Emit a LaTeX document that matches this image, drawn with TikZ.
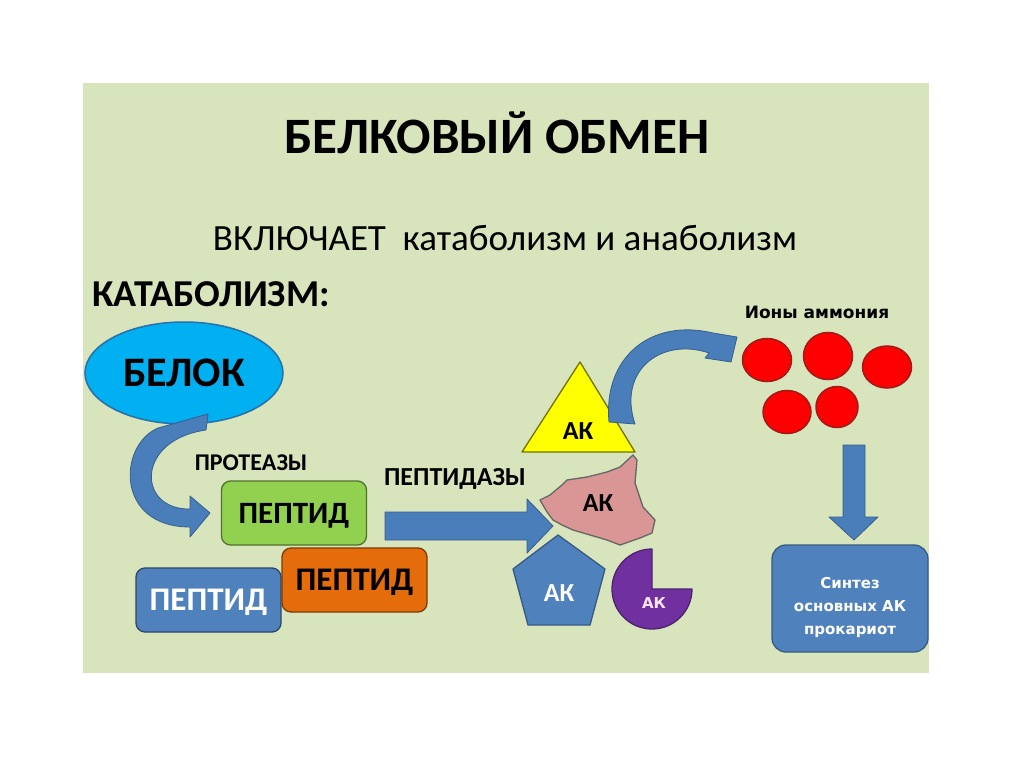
\documentclass[tikz,border=0pt]{standalone}
\usepackage{fontspec}
\setmainfont{Carlito}
\newfontfamily\ionfont{DejaVu Sans}
\usepackage{xcolor}
\usepackage{tikz}
\usetikzlibrary{shapes.geometric}

\definecolor{slidebg}{HTML}{D7E4BC}
\definecolor{belokblue}{HTML}{00B0F0}
\definecolor{belokline}{HTML}{2A6FA8}
\definecolor{arrowblue}{HTML}{4A7EBB}
\definecolor{pepblue}{HTML}{4F81BD}
\definecolor{pepgreen}{HTML}{92D050}
\definecolor{peporange}{HTML}{E46C0A}
\definecolor{akyellow}{HTML}{FFFF00}
\definecolor{akpink}{HTML}{D99694}
\definecolor{akpurple}{HTML}{7030A0}
\definecolor{ionred}{HTML}{FF0000}
\definecolor{ionline}{HTML}{9E1B1B}

\begin{document}
\begin{tikzpicture}[x=1pt,y=-1pt,
  txt/.style={font=\bfseries\fontsize{#1}{#1}\selectfont, inner sep=0pt, anchor=base},
  pepbox/.style={draw=#1!55!black, fill=#1, line width=1.3pt, rounded corners=9pt,
    minimum width=145pt, minimum height=64pt, inner sep=0pt, text depth=0pt,
    font=\bfseries\fontsize{33}{33}\selectfont},
  aklabel/.style={inner sep=0pt, text depth=0pt, font=\bfseries\fontsize{26}{26}\selectfont},
  blockarrow/.style={fill=arrowblue, draw=arrowblue!75!black, line width=0.8pt, line join=round},
  ion/.style={ellipse, draw=ionline, fill=ionred, line width=1.5pt, inner sep=0pt}]

  % Page and light green slide
  \useasboundingbox (0,0) rectangle (1024,767);
  \fill[white] (0,0) rectangle (1024,767);
  \fill[slidebg] (83,83) rectangle (929,673);

  % Headings
  \node[txt=51] (title) at (497,154) {БЕЛКОВЫЙ ОБМЕН};
  \node[txt=37, font=\mdseries\fontsize{37}{37}\selectfont] (incl) at (505,250) {ВКЛЮЧАЕТ\ \ катаболизм и анаболизм};
  \node[txt=38, anchor=base west] (catab) at (92,306) {КАТАБОЛИЗМ:};

  % Protein and proteases
  \node[ellipse, draw=belokline, fill=belokblue, line width=1.5pt, minimum width=198pt,
    minimum height=102pt, text depth=0pt, font=\bfseries\fontsize{42}{42}\selectfont] (belok) at (184,373) {БЕЛОК};
  \filldraw[blockarrow] (208,414) -- (158,428) .. controls (118,445) and (115,527) .. (190,527)
    -- (190,537) -- (210,513) -- (190,496) -- (190,509)
    .. controls (137,510) and (135,440) .. (206,430) -- cycle;
  \node[txt=24] (protease) at (251,470) {ПРОТЕАЗЫ};

  % Peptides
  \node[pepbox=pepblue, text=white] (pepBlue) at (208.5,600) {ПЕПТИД};
  \node[pepbox=pepgreen, font=\bfseries\fontsize{31}{31}\selectfont] (pepGreen) at (294,513) {ПЕПТИД};
  \node[pepbox=peporange] (pepOrange) at (354.5,580) {ПЕПТИД};

  % Peptidases arrow
  \node[txt=26] (peptidase) at (455,485) {ПЕПТИДАЗЫ};
  \filldraw[blockarrow] (385,512) -- (527,512) -- (527,499) -- (553,526) -- (527,553)
    -- (527,540) -- (385,540) -- cycle;

  % Amino acids
  \filldraw[fill=akyellow, draw=akyellow!45!black, line width=1.3pt, line join=round]
    (522,452) -- (580,362) -- (635,452) -- cycle;
  \node[aklabel] (akTri) at (578,431) {АК};
  \filldraw[blockarrow] (609,422) .. controls (603,358) and (650,318) .. (713,333)
    -- (737,337) -- (731,362) -- (705,358) -- (709,353)
    .. controls (662,337) and (617,370) .. (635,424) -- cycle;
  \filldraw[fill=akpink, draw=black!60, line width=1.3pt, line join=round]
    (540,500) -- (550,495) -- (562,485) -- (567,480) -- (587,477) -- (607,472)
    -- (620,467) -- (633,455) -- (637,460) -- (635,483) -- (643,507) -- (655,520)
    -- (652,533) -- (640,538) -- (620,545) -- (607,540) -- (590,535) -- (573,530)
    -- (562,525) -- (553,520) -- (547,512) -- cycle;
  \node[aklabel] (akPink) at (598,503) {АК};
  \filldraw[fill=pepblue, draw=pepblue!70!black, line width=1.3pt, line join=round]
    (558,535) -- (605,569) -- (590,625) -- (528,625) -- (513,569) -- cycle;
  \node[aklabel, text=white] (akPent) at (559,593) {АК};
  \filldraw[fill=akpurple, draw=akpurple!70!black, line width=1.3pt, line join=round]
    (652,589) -- (692,589) arc[start angle=0, end angle=270, radius=40] -- cycle;
  \node[inner sep=0pt, text depth=0pt, text=white!90!magenta, font=\ionfont\bfseries\fontsize{15}{15}\selectfont] (akPac) at (654,603) {АК};

  % Ammonium ions
  \node[font=\ionfont\bfseries\fontsize{17}{17}\selectfont, inner sep=0pt, anchor=base] (ionText) at (817,318) {Ионы аммония};
  \node[ion, minimum width=49pt, minimum height=43pt] (ion1) at (767,360) {};
  \node[ion, minimum width=49pt, minimum height=47pt] (ion2) at (828,356) {};
  \node[ion, minimum width=49pt, minimum height=42pt] (ion3) at (887,367) {};
  \node[ion, minimum width=48pt, minimum height=43pt] (ion4) at (787,412) {};
  \node[ion, minimum width=42pt, minimum height=41pt] (ion5) at (837,407) {};

  % Synthesis
  \filldraw[blockarrow] (843,445) -- (865,445) -- (865,517) -- (878,517) -- (854,540)
    -- (829,517) -- (843,517) -- cycle;
  \node[draw=pepblue!70!black, fill=pepblue, line width=1.3pt, rounded corners=14pt,
    minimum width=156pt, minimum height=107pt] (sintez) at (850,598.5) {};
  \node[align=center, text=white, inner sep=0pt, font=\ionfont\bfseries\fontsize{15}{23}\selectfont] (sintezText) at (850,607)
    {Синтез\\основных АК\\прокариот};
\end{tikzpicture}
\end{document}
